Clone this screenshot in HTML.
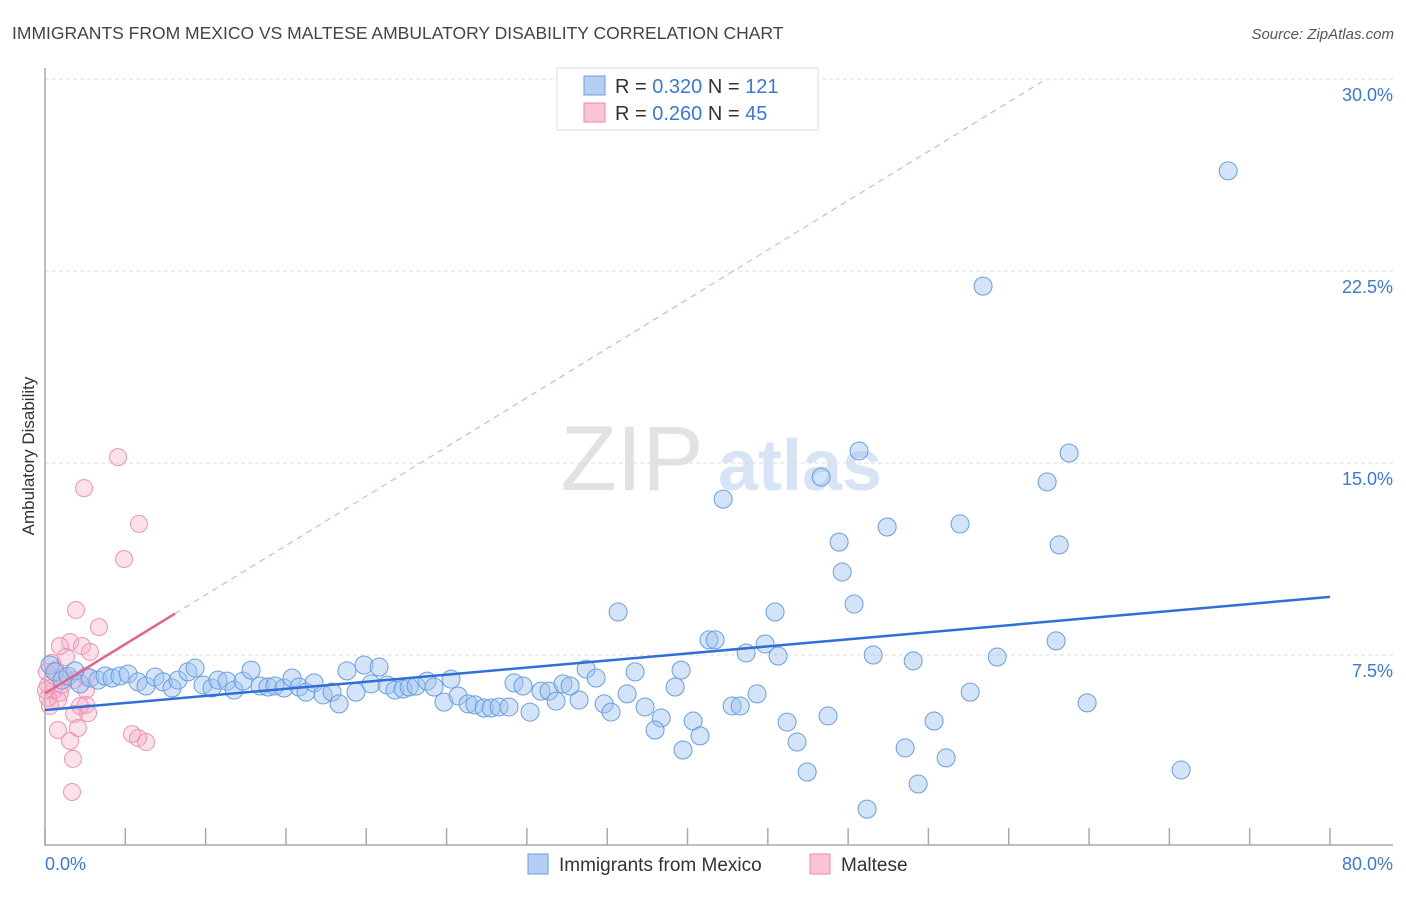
<!DOCTYPE html>
<html><head><meta charset="utf-8"><style>
body{margin:0;background:#fff;font-family:"Liberation Sans",sans-serif}
svg text{font-family:"Liberation Sans",sans-serif}
</style></head><body>
<svg id="chart" width="1406" height="892" xmlns="http://www.w3.org/2000/svg">
<text x="12" y="39" font-size="17.5" fill="#444">IMMIGRANTS FROM MEXICO VS MALTESE AMBULATORY DISABILITY CORRELATION CHART</text>
<text x="1394" y="39" font-size="15" fill="#555" text-anchor="end" font-style="italic">Source: ZipAtlas.com</text>
<g>
<text x="632" y="490" font-size="92" fill="#e2e2e2" text-anchor="middle" font-family="Liberation Serif">ZIP</text>
<text x="800" y="490" font-size="72" fill="#d6e4f5" text-anchor="middle" font-weight="bold">atlas</text>
</g>
<g id="grid"></g>
<g id="axes"></g>
<g id="marks"></g>
<text transform="translate(34,456) rotate(-90)" font-size="17" fill="#333" text-anchor="middle">Ambulatory Disability</text>
<g>
<rect x="557" y="68" width="261" height="62" fill="#fff" stroke="#ddd"/>
<rect x="584" y="76" width="21" height="19" fill="#b4cff3" stroke="#6a9ee0"/>
<text x="615" y="93" font-size="20" fill="#333">R = <tspan fill="#3a78d8">0.320</tspan>   N = <tspan fill="#3a78d8">121</tspan></text>
<rect x="584" y="103" width="21" height="19" fill="#f8c4d6" stroke="#e888aa"/>
<text x="615" y="120" font-size="20" fill="#333">R = <tspan fill="#3a78d8">0.260</tspan>   N =  <tspan fill="#3a78d8">45</tspan></text>
</g>
<g>
<rect x="528" y="854" width="20" height="20" fill="#b4cff3" stroke="#6a9ee0"/>
<text x="559" y="871" font-size="19" fill="#333">Immigrants from Mexico</text>
<rect x="810" y="854" width="20" height="20" fill="#f8c4d6" stroke="#e888aa"/>
<text x="841" y="871" font-size="19" fill="#333">Maltese</text>
</g>
</svg>
<script>
const xTicks=[0,10,20,30,40,50,60,70,80];
const yTicks=[7.5,15,22.5,30];
const yTickLabels=["7.5%","15.0%","22.5%","30.0%"];
const xEdgeLabels=["0.0%","80.0%"];
const mexicoX=[73.66,58.4,63.76,50.68,48.32,62.39,42.22,52.43,56.97,49.44,63.14,49.63,50.37,35.68,45.45,41.34,41.72,44.83,62.95,43.65,45.64,51.56,54.05,59.28,36.74,33.69,39.6,34.31,39.23,44.33,57.6,64.88,42.78,43.28,36.24,37.36,33.25,34.81,35.24,38.36,40.35,37.98,40.78,46.2,48.75,55.35,53.55,46.82,39.72,56.1,47.45,54.36,70.73,51.18,0.31,0.62,1.06,1.43,1.87,2.18,2.8,3.3,3.74,4.17,4.67,5.17,5.79,6.29,6.85,7.35,7.91,8.28,8.9,9.34,9.84,10.4,10.77,11.33,11.77,12.33,12.83,13.39,13.88,14.32,14.88,15.38,15.82,16.25,16.75,17.31,17.87,18.31,18.8,19.36,19.86,20.3,20.8,21.3,21.79,22.29,22.67,23.1,23.79,24.22,24.84,25.28,25.72,26.34,26.77,27.33,27.77,28.27,28.89,29.2,29.76,30.2,30.88,31.38,31.82,32.25,32.69];
const mexicoY=[26.41,21.91,15.39,15.47,14.45,14.26,13.59,12.5,12.62,11.91,11.8,10.74,9.49,9.18,9.18,8.09,8.09,7.93,8.05,7.58,7.46,7.5,7.27,7.42,6.84,6.95,6.91,6.6,6.25,5.98,6.05,5.63,5.51,5.51,5.98,5.47,5.74,5.59,5.27,5.04,4.92,4.57,4.34,4.88,5.12,4.92,3.87,4.1,3.79,3.48,2.93,2.46,3.01,1.48,7.11,6.84,6.52,6.68,6.88,6.37,6.6,6.52,6.68,6.6,6.68,6.76,6.45,6.29,6.64,6.45,6.21,6.52,6.84,6.99,6.33,6.21,6.52,6.48,6.13,6.48,6.91,6.29,6.25,6.29,6.21,6.6,6.25,6.05,6.41,5.94,6.05,5.59,6.88,6.05,7.11,6.37,7.03,6.33,6.13,6.17,6.25,6.29,6.48,6.25,5.66,6.56,5.9,5.59,5.55,5.43,5.43,5.47,5.47,6.41,6.29,5.27,6.09,6.09,5.7,6.37,6.29];
const malteseX=[4.55,2.43,5.85,4.92,1.93,3.36,1.56,2.3,0.93,2.8,1.31,0.44,0.68,1.18,1.81,2.55,0.19,0.56,0.93,0.19,0.81,2.55,0.31,2.55,2.68,1.81,2.05,0.81,1.56,5.42,5.79,6.29,1.74,1.68,0.06,1.06,0.12,2.18];
const malteseY=[15.23,14.02,12.62,11.25,9.26,8.59,8.01,7.85,7.85,7.62,7.42,7.19,6.91,6.68,6.52,6.68,6.33,6.13,6.02,5.82,5.74,6.13,5.51,5.55,5.23,5.2,4.65,4.57,4.14,4.41,4.26,4.1,3.44,2.15,6.13,6.33,6.84,5.51];
const mexicoTrend=[5.35,9.77]; // y at x=0 and x=80
const malteseTrend=[6.0,0.385]; // intercept, slope
const NS="http://www.w3.org/2000/svg";
const X0=45,X1=1330,Y0=847,PXY=25.6;
function sx(v){return X0+(v/80)*(X1-X0);}
function sy(v){return Y0-v*PXY;}
function mk(tag,attrs,parent){const e=document.createElementNS(NS,tag);for(const k in attrs)e.setAttribute(k,attrs[k]);parent.appendChild(e);return e;}
const grid=document.getElementById('grid'),axes=document.getElementById('axes'),marks=document.getElementById('marks');
yTicks.forEach((t,i)=>{
 const l=mk('line',{x1:X0,x2:1393,y1:sy(t),y2:sy(t),stroke:'#ddd','stroke-dasharray':'4,3'},grid);
 
 
 const tx=mk('text',{x:1393,y:sy(t)+22,'font-size':18,fill:'#3a78d8','text-anchor':'end'},axes);
 tx.textContent=yTickLabels[i];
 
 
});
const ya=mk('line',{x1:X0,x2:X0,y1:68,y2:846,stroke:'#aaa','stroke-width':1.5},axes);


const xa=mk('line',{x1:X0,x2:1393,y1:845,y2:845,stroke:'#aaa','stroke-width':1.5},axes);


xTicks.forEach(t=>{
 const l=mk('line',{x1:sx(t),x2:sx(t),y1:828,y2:845,stroke:'#aaa','stroke-width':1.5},axes);
 
 
 if(t%10===0&&t<80){const l2=mk('line',{x1:sx(t+5),x2:sx(t+5),y1:828,y2:845,stroke:'#aaa','stroke-width':1.5},axes);
 
 }
});
const xl0=mk('text',{x:45,y:870,'font-size':18,fill:'#3a78d8'},axes);xl0.textContent=xEdgeLabels[0];


const xl1=mk('text',{x:1393,y:870,'font-size':18,fill:'#3a78d8','text-anchor':'end'},axes);xl1.textContent=xEdgeLabels[1];


malteseX.forEach((x,i)=>{
 const c=mk('circle',{cx:sx(x),cy:sy(malteseY[i]),r:8.5,fill:'rgba(245,165,192,0.33)',stroke:'#ec94b4','stroke-width':1},marks);
 
 
});
mexicoX.forEach((x,i)=>{
 const c=mk('circle',{cx:sx(x),cy:sy(mexicoY[i]),r:9,fill:'rgba(160,195,240,0.45)',stroke:'#6a9ee0','stroke-width':1},marks);
 
 
});
const bt=mk('line',{x1:sx(0),y1:sy(mexicoTrend[0]),x2:sx(80),y2:sy(mexicoTrend[1]),stroke:'#2f6fd6','stroke-width':2.5},marks);


const xEnd=(29.9-malteseTrend[0])/malteseTrend[1];
const pd=mk('line',{x1:sx(8.1),y1:sy(malteseTrend[0]+malteseTrend[1]*8.1),x2:sx(xEnd),y2:sy(malteseTrend[0]+malteseTrend[1]*xEnd),stroke:'#e8a0b8','stroke-width':1,'stroke-dasharray':'6,5'},marks);


const pt=mk('line',{x1:sx(0),y1:sy(malteseTrend[0]),x2:sx(8.1),y2:sy(malteseTrend[0]+malteseTrend[1]*8.1),stroke:'#e3648f','stroke-width':2.5},marks);


</script>
</body></html>
